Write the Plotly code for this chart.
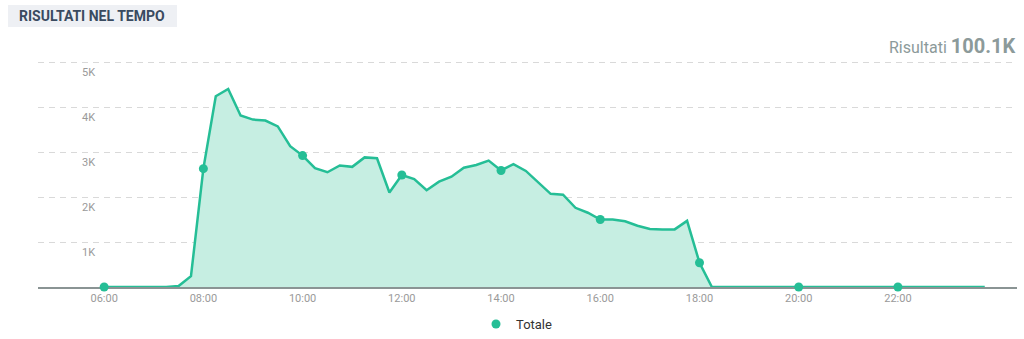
import pandas as pd
import plotly.graph_objects as go

# ---- data ----
times = pd.date_range("2024-01-01 06:00", "2024-01-01 23:45", freq="15min")
totale = [
    0, 0, 0, 0, 0, 0, 20, 240,
    2630, 4240, 4400, 3810, 3720, 3700, 3570, 3130,
    2920, 2640, 2550, 2700, 2670, 2880, 2860, 2100,
    2490, 2400, 2150, 2340, 2450, 2650, 2710, 2810,
    2590, 2730, 2580, 2320, 2070, 2050, 1760, 1650,
    1500, 1500, 1460, 1360, 1290, 1280, 1280, 1470,
    540, 0, 0, 0, 0, 0, 0, 0,
    0, 0, 0, 0, 0, 0, 0, 0,
    0, 0, 0, 0, 0, 0, 0, 0,
]
series_name = "Totale"
title_text = "RISULTATI NEL TEMPO"
total_label = "Risultati"
total_value = "100.1K"
y_tick_vals = [1000, 2000, 3000, 4000, 5000]
y_tick_text = ["1K", "2K", "3K", "4K", "5K"]

# ---- layout geometry (pixels) ----
W, H = 1024, 339
L, R, T, B = 38, 7, 57, 52
PW, PH = W - L - R, H - T - B


def px2x(px):
    return (px - L) / PW


def px2y(py):
    return (H - B - py) / PH


LINE = "#25be96"
FILL = "#c6eee2"

marker_times = [t for i, t in enumerate(times) if i % 8 == 0]
marker_vals = [v for i, v in enumerate(totale) if i % 8 == 0]

fig = go.Figure()
fig.add_trace(go.Scatter(
    x=times, y=totale, mode="lines", fill="tozeroy", fillcolor=FILL,
    line=dict(color=LINE, width=2.5), showlegend=False, cliponaxis=False,
    hoverinfo="skip",
))
fig.add_trace(go.Scatter(
    x=marker_times, y=marker_vals, mode="markers", name=series_name,
    marker=dict(color=LINE, size=9), cliponaxis=False,
))

annotations = []
for v, t in zip(y_tick_vals, y_tick_text):
    annotations.append(dict(
        x=px2x(88), xref="paper", y=v, yref="y", text=t, showarrow=False,
        xanchor="center", yanchor="middle", yshift=-10,
        font=dict(family="Roboto", size=11, color="#9a9a9a"),
    ))
annotations.append(dict(
    x=px2x(17), xref="paper", y=px2y(16), yref="paper", text="<b>" + title_text + "</b>",
    showarrow=False, xanchor="left", yanchor="middle",
    font=dict(family="Roboto", size=14, color="#3a4b60"),
))
annotations.append(dict(
    x=px2x(1017), xref="paper", y=px2y(46), yref="paper",
    text=total_label + " <b><span style='font-size:20px'>" + total_value + "</span></b>",
    showarrow=False, xanchor="right", yanchor="middle",
    font=dict(family="Roboto", size=16, color="#8c9a9a"),
))

fig.update_layout(
    width=W, height=H,
    margin=dict(l=L, r=R, t=T, b=B, autoexpand=False),
    paper_bgcolor="white", plot_bgcolor="white",
    font=dict(family="Roboto", color="#333"),
    showlegend=True,
    legend=dict(orientation="h", x=(476) / W, xref="container", xanchor="left",
                y=(H - 324) / H, yref="container", yanchor="middle",
                font=dict(size=13, color="#333"), bgcolor="rgba(0,0,0,0)"),
    annotations=annotations,
    shapes=[dict(type="rect", xref="paper", yref="paper",
                 x0=px2x(8), x1=px2x(177), y0=px2y(27), y1=px2y(5),
                 fillcolor="#eef0f4", line=dict(width=0), layer="below")],
    xaxis=dict(
        type="date", range=["2024-01-01 04:40", "2024-01-02 00:24"],
        tickvals=marker_times, tickformat="%H:%M",
        showgrid=False, zeroline=False, showline=True, linecolor="#8a9494", linewidth=2,
        ticks="", tickfont=dict(family="Roboto", size=11, color="#9a9a9a"),
        layer="below traces", fixedrange=True,
    ),
    yaxis=dict(
        range=[0, 5111.1], tickvals=y_tick_vals, showticklabels=False,
        showgrid=True, gridcolor="#d9d9d9", gridwidth=1, griddash="6px,5px",
        zeroline=False, showline=False, ticks="", fixedrange=True,
    ),
)

fig.write_html("out.html")
